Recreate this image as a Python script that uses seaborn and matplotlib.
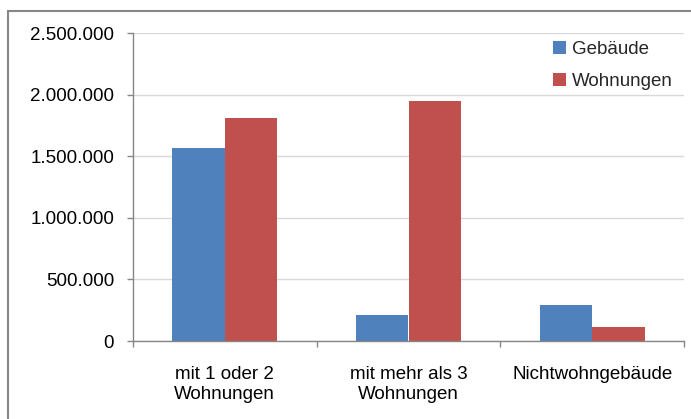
import matplotlib
matplotlib.use("Agg")
import matplotlib.pyplot as plt
from matplotlib.patches import Rectangle
from matplotlib.ticker import FuncFormatter, MultipleLocator, FixedLocator
import seaborn as sns
import pandas as pd

# Bestand nach Gebäudeart
kategorien = ["mit 1 oder 2\nWohnungen", "mit mehr als 3\nWohnungen", "Nichtwohngebäude"]
gebaeude = [1569000, 208000, 290000]
wohnungen = [1812000, 1950000, 114000]
reihen = ["Gebäude", "Wohnungen"]
farben = ["#4F81BD", "#C0504D"]

df = pd.DataFrame({
    "Kategorie": kategorien * 2,
    "Wert": gebaeude + wohnungen,
    "Reihe": [reihen[0]] * len(kategorien) + [reihen[1]] * len(kategorien),
})

sns.set_theme(style="white")
plt.rcParams["font.family"] = ["Liberation Sans", "DejaVu Sans"]

fig = plt.figure(figsize=(6.91, 4.19), dpi=100)
ax = fig.add_axes([133 / 691, 1 - 341 / 419, (684 - 133) / 691, (341 - 33) / 419])

sns.barplot(data=df, x="Kategorie", y="Wert", hue="Reihe", order=kategorien,
            hue_order=reihen, palette=farben, width=0.572, saturation=1,
            linewidth=0, ax=ax)

ax.set_xlim(-0.5, 2.5)
ax.set_ylim(0, 2500000)
ax.yaxis.set_major_locator(MultipleLocator(500000))
ax.yaxis.set_major_formatter(FuncFormatter(lambda v, _: f"{int(v):,}".replace(",", ".")))
ax.grid(axis="y", color="#d9d9d9", linewidth=1.0)
ax.set_axisbelow(True)
ax.set_xlabel("")
ax.set_ylabel("")

for s in ["top", "right"]:
    ax.spines[s].set_visible(False)
for s in ["left", "bottom"]:
    ax.spines[s].set_color("#868686")
    ax.spines[s].set_linewidth(1.0)

ax.tick_params(axis="y", which="major", left=True, length=4.5, width=1.0,
               color="#868686", pad=9, labelsize=13.5, labelcolor="black")
ax.tick_params(axis="x", which="major", bottom=False, pad=12,
               labelsize=13.5, labelcolor="black")
ax.xaxis.set_minor_locator(FixedLocator([-0.5, 0.5, 1.5, 2.5]))
ax.tick_params(axis="x", which="minor", bottom=True, length=4.5, width=1.0,
               color="#868686")
for lbl in ax.get_xticklabels():
    lbl.set_linespacing(1.2)

leg = ax.legend(loc="upper right", bbox_to_anchor=(1.0, 1.012), frameon=False,
                fontsize=13.5, handlelength=0.7, handleheight=0.7,
                handletextpad=0.3, labelspacing=0.8, borderaxespad=0.2)

# Rahmen des Diagrammbereichs
fig.patches.append(Rectangle((8 / 691, -0.1), 1.2, 1.1 - 11 / 419,
                             transform=fig.transFigure, fill=False,
                             edgecolor="#878787", linewidth=1.5))

fig.savefig("out.png", dpi=100)
